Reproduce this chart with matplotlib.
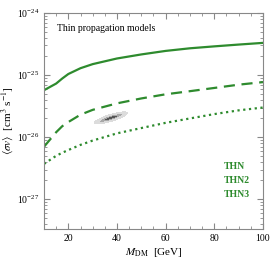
import numpy as np
import matplotlib
matplotlib.use('Agg')
import matplotlib.pyplot as plt

plt.rcParams['font.family'] = ['Liberation Serif', 'DejaVu Serif']
plt.rcParams['mathtext.fontset'] = 'stix'

# data
mass = [10, 15, 17.5, 20, 25, 30, 40, 50, 60, 70, 80, 90, 100]
thn = [5.7e-26, 7.3e-26, 8.8e-26, 1.04e-25, 1.29e-25, 1.5e-25, 1.85e-25, 2.15e-25, 2.45e-25, 2.7e-25, 2.9e-25, 3.1e-25, 3.3e-25]
thn2 = [7.0e-27, 1.2e-26, 1.5e-26, 1.75e-26, 2.3e-26, 2.75e-26, 3.5e-26, 4.2e-26, 4.9e-26, 5.5e-26, 6.2e-26, 7.0e-26, 7.7e-26]
thn3 = [3.7e-27, 5.0e-27, 5.6e-27, 6.2e-27, 7.5e-27, 8.8e-27, 1.15e-26, 1.4e-26, 1.7e-26, 2.0e-26, 2.35e-26, 2.7e-26, 3.0e-26]
labels = ['THN', 'THN2', 'THN3']

# best fit region (centre, log-space)
fit_mass = 37.5
fit_logsv = -25.69

green = '#2e8b2e'

fig = plt.figure(figsize=(2.7, 2.6), dpi=100)
ax = fig.add_axes([0.163, 0.119, 0.811, 0.831])

# contour of fit region, built in pixel-like scaled coordinates
mg = np.linspace(25, 50, 300)
lg = np.linspace(-25.95, -25.45, 300)
M, L = np.meshgrid(mg, lg)
u = (M - fit_mass) * 2.45
v = (L - fit_logsv) * 62
th = np.deg2rad(17)
up = u * np.cos(th) + v * np.sin(th)
vp = -u * np.sin(th) + v * np.cos(th)
chi2 = (up / 5.0) ** 2 + (vp / 1.0) ** 2
ax.contourf(M, 10 ** L, chi2, levels=[0, 2.3, 6.18, 11.8],
            colors=['#555555', '#a8a8a8', '#dcdcdc'])

ax.plot(mass, thn, color=green, lw=1.6)
ax.plot(mass, thn2, color=green, lw=1.6, dashes=(5, 3))
ax.plot(mass, thn3, color=green, lw=1.6, dashes=(1, 1.6))

ax.set_yscale('log')
ax.set_xlim(10, 100)
ax.set_ylim(3.3e-28, 1e-24)

ax.text(0.06, 0.93, 'Thin propagation models', transform=ax.transAxes,
        fontsize=7, va='center', ha='left')
for i, lab in enumerate(labels):
    ax.text(0.82, 0.29 - i * 0.066, lab, transform=ax.transAxes, color=green,
            fontsize=7, fontweight='bold', va='center', ha='left')

ax.set_xlabel(r'$M_{\rm DM}$  [GeV]', fontsize=8, labelpad=2)
ax.set_ylabel(r'$\langle\sigma v\rangle$  [cm$^3$ s$^{-1}$]', fontsize=8, labelpad=1)

ax.set_xticks([20, 40, 60, 80, 100])
ax.set_xticks(np.arange(10, 101, 5), minor=True)
ax.set_yticks([1e-27, 1e-26, 1e-25, 1e-24])
ax.tick_params(which='both', direction='in', top=True, right=True,
               color='#888888', labelsize=7)
ax.tick_params(which='major', length=4)
ax.tick_params(which='minor', length=2)
for s in ax.spines.values():
    s.set_color('#888888')
    s.set_linewidth(0.8)

fig.savefig('out.png', dpi=100)
